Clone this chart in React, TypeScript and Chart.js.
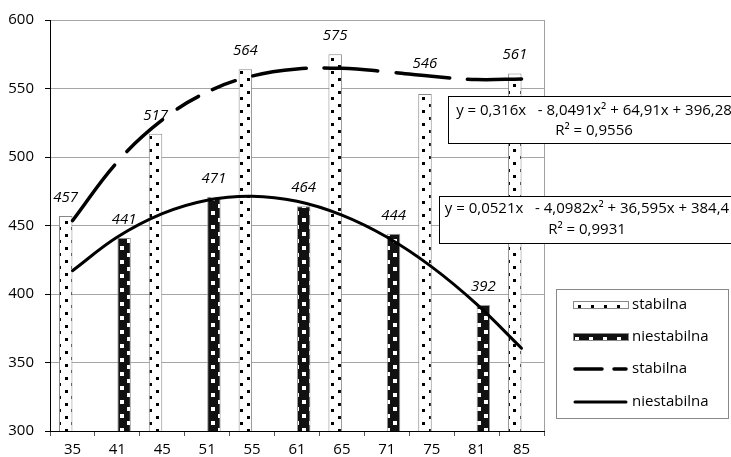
import React, { useEffect, useRef } from 'react';
import { Chart, registerables } from 'chart.js';

Chart.register(...registerables);

const categories = ['35', '41', '45', '51', '55', '61', '65', '71', '75', '81', '85'];
const stabilnaBars = [457, null, 517, null, 564, null, 575, null, 546, null, 561];
const niestabilnaBars = [null, 441, null, 471, null, 464, null, 444, null, 392, null];
const stabilnaTrend = [453.5, 496.4, 527.1, 547.4, 559.1, 564.2, 564.7, 562.2, 558.9, 556.5, 557.0];
const niestabilnaTrend = [417.0, 441.6, 458.7, 468.5, 471.4, 467.7, 457.6, 441.6, 419.8, 392.6, 360.4];
const yTicks = [300, 350, 400, 450, 500, 550, 600];
const seriesNames = ['stabilna', 'niestabilna'];
const stabilnaEquation = ['y = 0,316x   - 8,0491x² + 64,91x + 396,28', 'R² = 0,9556'];
const niestabilnaEquation = ['y = 0,0521x   - 4,0982x² + 36,595x + 384,4', 'R² = 0,9931'];

const FONT = "'Open Sans', sans-serif";
const DASH = [70, 18, 48, 18, 25, 15, 25, 18, 54, 18, 54, 18, 54, 18, 54, 18];

function makePattern(bg: string, fg: string, w: number, h: number, dots: number[][], size: number) {
  const c = document.createElement('canvas');
  c.width = w;
  c.height = h;
  const g = c.getContext('2d')!;
  g.fillStyle = bg;
  g.fillRect(0, 0, w, h);
  g.fillStyle = fg;
  dots.forEach(([x, y]) => g.fillRect(x, y, size, size));
  return g.createPattern(c, 'repeat')!;
}

export default function App() {
  const ref = useRef<HTMLCanvasElement>(null);

  useEffect(() => {
    document.body.style.margin = '0';
    const canvas = ref.current!;
    const ctx = canvas.getContext('2d')!;
    const patStab = makePattern('#ffffff', '#000000', 13, 13, [[0, 0], [6, 6]], 3);
    const patNiest = makePattern('#111111', '#ffffff', 14, 14, [[1, 1], [8, 8]], 4);

    const dataLabels = {
      id: 'dataLabels',
      afterDatasetsDraw(chart: any) {
        const c = chart.ctx;
        c.save();
        c.font = `italic 15px ${FONT}`;
        c.fillStyle = '#000';
        c.textAlign = 'center';
        c.textBaseline = 'alphabetic';
        chart.data.datasets.forEach((ds: any, di: number) => {
          if (ds.type !== 'bar') return;
          const meta = chart.getDatasetMeta(di);
          meta.data.forEach((el: any, i: number) => {
            const v = ds.data[i];
            if (v === null || v === undefined) return;
            // the label of the 75 bar sits higher, clear of the trend line
            const lift = di === 0 && i === 8 ? 26 : 14;
            c.fillText(String(v), el.x, el.y - lift);
          });
        });
        c.restore();
      },
    };

    const frame = {
      id: 'frame',
      beforeDatasetsDraw(chart: any) {
        const { top, bottom, right } = chart.chartArea;
        const c = chart.ctx;
        c.save();
        c.strokeStyle = '#a0a0a0';
        c.lineWidth = 1;
        c.beginPath();
        c.moveTo(Math.round(right) + 0.5, top);
        c.lineTo(Math.round(right) + 0.5, bottom);
        c.stroke();
        c.restore();
      },
    };

    const overlays = {
      id: 'overlays',
      afterDraw(chart: any) {
        const c = chart.ctx;
        c.save();
        const boxes = [
          { x: 448, y: 96, w: 300, h: 47, cx: 594, lines: stabilnaEquation, ly: [111, 131] },
          { x: 439, y: 196, w: 300, h: 47, cx: 587, lines: niestabilnaEquation, ly: [209, 230] },
        ];
        boxes.forEach((b) => {
          c.fillStyle = '#fff';
          c.fillRect(b.x, b.y, b.w, b.h);
          c.strokeStyle = '#000';
          c.lineWidth = 1;
          c.strokeRect(b.x + 0.5, b.y + 0.5, b.w, b.h);
          c.fillStyle = '#000';
          c.font = `15px ${FONT}`;
          c.textAlign = 'center';
          c.textBaseline = 'middle';
          b.lines.forEach((t, i) => c.fillText(t, b.cx, b.ly[i]));
        });
        const lx = 556, ly = 289, lw = 172, lh = 129;
        c.fillStyle = '#fff';
        c.fillRect(lx, ly, lw, lh);
        c.strokeStyle = '#888';
        c.lineWidth = 1;
        c.strokeRect(lx + 0.5, ly + 0.5, lw, lh);
        const rows = [305, 337, 369, 402];
        const ds = chart.data.datasets;
        c.font = `15px ${FONT}`;
        c.textAlign = 'left';
        c.textBaseline = 'middle';
        ds.forEach((d: any, i: number) => {
          const y = rows[i];
          if (d.type === 'bar') {
            c.fillStyle = d.backgroundColor;
            c.fillRect(573, y - 4, 55, 8);
            c.strokeStyle = '#888';
            c.lineWidth = 1;
            c.strokeRect(573.5, y - 3.5, 55, 7);
          } else {
            c.strokeStyle = '#000';
            c.lineWidth = d.borderWidth;
            c.lineCap = 'round';
            c.beginPath();
            if (d.borderDash && d.borderDash.length) {
              c.moveTo(575, y);
              c.lineTo(602, y);
              c.moveTo(614, y);
              c.lineTo(626, y);
            } else {
              c.moveTo(575, y);
              c.lineTo(626, y);
            }
            c.stroke();
          }
          c.fillStyle = '#000';
          c.fillText(d.label, 632, y);
        });
        c.restore();
      },
    };

    const chart = new Chart(ctx, {
      type: 'bar',
      data: {
        labels: categories,
        datasets: [
          {
            type: 'bar',
            label: seriesNames[0],
            data: stabilnaBars,
            backgroundColor: patStab as any,
            borderColor: '#888',
            borderWidth: 1,
            categoryPercentage: 0.6,
            barPercentage: 1,
            order: 1,
          },
          {
            type: 'bar',
            label: seriesNames[1],
            data: niestabilnaBars,
            backgroundColor: patNiest as any,
            borderColor: '#999',
            borderWidth: 1,
            categoryPercentage: 0.6,
            barPercentage: 1,
            order: 1,
          },
          {
            type: 'line',
            label: seriesNames[0],
            data: stabilnaTrend,
            borderColor: '#000',
            borderWidth: 3.5,
            borderDash: DASH,
            borderCapStyle: 'round',
            pointRadius: 0,
            tension: 0.4,
            fill: false,
            order: 0,
          },
          {
            type: 'line',
            label: seriesNames[1],
            data: niestabilnaTrend,
            borderColor: '#000',
            borderWidth: 3,
            borderCapStyle: 'round',
            pointRadius: 0,
            tension: 0.4,
            fill: false,
            order: 0,
          },
        ] as any,
      },
      options: {
        animation: false,
        responsive: false,
        layout: { padding: { top: 17, right: 187, left: 0, bottom: 0 } },
        plugins: { legend: { display: false }, tooltip: { enabled: false } },
        scales: {
          x: {
            offset: true,
            grid: { offset: true, drawOnChartArea: false, drawTicks: true, tickLength: 5, tickColor: '#555' },
            border: { color: '#000', width: 1 },
            ticks: { color: '#000', font: { family: FONT, size: 15 }, padding: 5, maxRotation: 0 },
            afterFit(scale: any) { scale.height = 26; },
          },
          y: {
            min: yTicks[0],
            max: yTicks[yTicks.length - 1],
            grid: { color: '#a6a6a6', lineWidth: 1, tickLength: 5, tickColor: '#000' },
            border: { color: '#000', width: 1 },
            ticks: {
              stepSize: yTicks[1] - yTicks[0],
              color: '#000',
              font: { family: FONT, size: 15 },
              padding: 11,
            },
            afterFit(scale: any) { scale.width = 50; },
          },
        },
      },
      plugins: [frame, dataLabels, overlays],
    } as any);

    return () => chart.destroy();
  }, []);

  return (
    <div style={{ position: 'absolute', left: 0, top: 0, width: 731, height: 457 }}>
      <canvas ref={ref} width={731} height={457} />
    </div>
  );
}
